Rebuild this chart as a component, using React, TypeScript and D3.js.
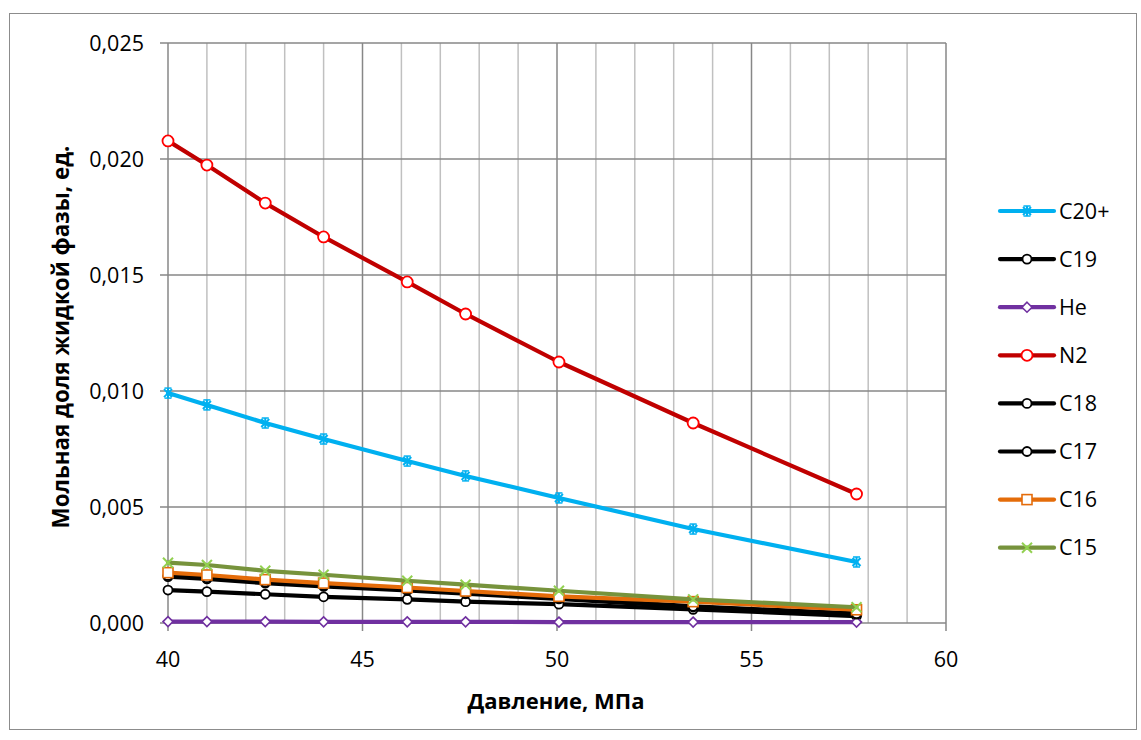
import React from "react";
import * as d3 from "d3";

const pressure = [40, 41, 42.5, 44, 46.15, 47.65, 50.05, 53.5, 57.7];
const c20p = [0.00991, 0.0094, 0.00862, 0.00793, 0.00698, 0.00634, 0.00539, 0.00405, 0.00263];
const c19 = [0.00142, 0.00135, 0.00124, 0.00113, 0.00102, 0.00092, 0.00081, 0.00059, 0.0003];
const he = [0.00006, 0.00006, 0.00006, 0.00005, 0.00005, 0.00005, 0.00004, 0.00004, 0.00004];
const n2 = [0.02078, 0.01974, 0.0181, 0.01664, 0.0147, 0.01332, 0.01125, 0.00862, 0.00556];
const c18 = [0.002, 0.0019, 0.00172, 0.00158, 0.0014, 0.00126, 0.00104, 0.00069, 0.00038];
const c17 = [0.00205, 0.00195, 0.00177, 0.00163, 0.00145, 0.0013, 0.00108, 0.00072, 0.0004];
const c16 = [0.00217, 0.00207, 0.00187, 0.00172, 0.00153, 0.00138, 0.00115, 0.00092, 0.00057];
const c15 = [0.0026, 0.0025, 0.00225, 0.00208, 0.00182, 0.00165, 0.00139, 0.00102, 0.00068];

const xTicks = [40, 45, 50, 55, 60];
const yTicks = [0, 0.005, 0.01, 0.015, 0.02, 0.025];

type Marker = "star" | "circle" | "diamond" | "square" | "x";
interface Series { name: string; values: number[]; line: string; mark: string; marker: Marker; r: number; }

const series: Series[] = [
  { name: "C20+", values: c20p, line: "#00B0F0", mark: "#00B0F0", marker: "star", r: 5 },
  { name: "C19", values: c19, line: "#000000", mark: "#000000", marker: "circle", r: 4.5 },
  { name: "He", values: he, line: "#7030A0", mark: "#7030A0", marker: "diamond", r: 5 },
  { name: "N2", values: n2, line: "#C00000", mark: "#FF0000", marker: "circle", r: 5.5 },
  { name: "C18", values: c18, line: "#000000", mark: "#000000", marker: "circle", r: 4.5 },
  { name: "C17", values: c17, line: "#000000", mark: "#000000", marker: "circle", r: 4.5 },
  { name: "C16", values: c16, line: "#E46C0A", mark: "#E46C0A", marker: "square", r: 5 },
  { name: "C15", values: c15, line: "#77933C", mark: "#92D050", marker: "x", r: 5 },
];

const FONT = "'Open Sans', 'Noto Sans', sans-serif";

function MarkerShape({ s, cx, cy }: { s: Series; cx: number; cy: number }) {
  const r = s.r;
  switch (s.marker) {
    case "circle":
      return <circle cx={cx} cy={cy} r={r} fill="#fff" stroke={s.mark} strokeWidth={1.8} />;
    case "diamond":
      return (
        <path
          d={`M${cx},${cy - r}L${cx + r},${cy}L${cx},${cy + r}L${cx - r},${cy}Z`}
          fill="#fff"
          stroke={s.mark}
          strokeWidth={1.6}
        />
      );
    case "square":
      return <rect x={cx - r} y={cy - r} width={2 * r} height={2 * r} fill="#fff" stroke={s.mark} strokeWidth={1.6} />;
    case "x":
      return (
        <g stroke={s.mark} strokeWidth={2}>
          <line x1={cx - r} y1={cy - r} x2={cx + r} y2={cy + r} />
          <line x1={cx - r} y1={cy + r} x2={cx + r} y2={cy - r} />
        </g>
      );
    case "star":
      return (
        <g stroke={s.mark} strokeWidth={2}>
          <line x1={cx - r * 0.8} y1={cy - r * 0.8} x2={cx + r * 0.8} y2={cy + r * 0.8} />
          <line x1={cx - r * 0.8} y1={cy + r * 0.8} x2={cx + r * 0.8} y2={cy - r * 0.8} />
          <line x1={cx} y1={cy - r} x2={cx} y2={cy + r} />
          <line x1={cx - r * 0.7} y1={cy - r} x2={cx + r * 0.7} y2={cy - r} strokeWidth={1.5} />
          <line x1={cx - r * 0.7} y1={cy + r} x2={cx + r * 0.7} y2={cy + r} strokeWidth={1.5} />
        </g>
      );
  }
  return null;
}

export default function App() {
  const W = 1141, H = 740;
  const x = d3.scaleLinear().domain([40, 60]).range([168, 946]);
  const y = d3.scaleLinear().domain([0, 0.025]).range([623, 43]);
  const minor = d3.range(41, 60);
  const fmt = (v: number) => d3.format(".3f")(v).replace(".", ",");
  const line = d3.line<[number, number]>().x((d) => x(d[0])).y((d) => y(d[1]));
  const legendY0 = 211, legendStep = 48.1;

  return (
    <svg width={W} height={H} style={{ position: "absolute", left: 0, top: 0, background: "#fff" }} fontFamily={FONT}>
      <rect x={9.5} y={13.5} width={1127} height={716} fill="#fff" stroke="#8c8c8c" strokeWidth={1} />
      {minor.filter((v) => v % 5 !== 0).map((v) => (
        <line key={"m" + v} x1={x(v)} x2={x(v)} y1={y(0.025)} y2={y(0)} stroke="#c0c0c0" strokeWidth={1.5} />
      ))}
      {xTicks.map((v) => (
        <line key={"vx" + v} x1={x(v)} x2={x(v)} y1={y(0.025)} y2={y(0) + 8} stroke="#878787" strokeWidth={1.5} />
      ))}
      {yTicks.map((v) => (
        <line key={"hy" + v} x1={x(40) - 8} x2={x(60)} y1={y(v)} y2={y(v)} stroke="#878787" strokeWidth={1.5} />
      ))}
      {yTicks.map((v) => (
        <text key={"ty" + v} x={144} y={y(v)} dy="0.36em" textAnchor="end" fontSize={21.5} fill="#000">
          {fmt(v)}
        </text>
      ))}
      {xTicks.map((v) => (
        <text key={"tx" + v} x={x(v)} y={659} dy="0.36em" textAnchor="middle" fontSize={21.5} fill="#000">
          {v}
        </text>
      ))}
      <text x={556} y={701} dy="0.36em" textAnchor="middle" fontSize={22} fontWeight="bold">
        Давление, МПа
      </text>
      <text
        transform={`translate(61,337) rotate(-90)`}
        dy="0.36em"
        textAnchor="middle"
        fontSize={22.4}
        fontWeight="bold"
      >
        Мольная доля жидкой фазы, ед.
      </text>
      {series.map((s) => {
        const pts = pressure.map((p, i) => [p, s.values[i]] as [number, number]);
        return (
          <g key={s.name}>
            <path d={line(pts) || ""} fill="none" stroke={s.line} strokeWidth={4.2} strokeLinejoin="round" strokeLinecap="round" />
            {pts.map((d, i) => (
              <MarkerShape key={i} s={s} cx={x(d[0])} cy={y(d[1])} />
            ))}
          </g>
        );
      })}
      {series.map((s, i) => {
        const ly = legendY0 + i * legendStep;
        return (
          <g key={"lg" + s.name}>
            <line x1={1000} x2={1054} y1={ly} y2={ly} stroke={s.line} strokeWidth={4.2} strokeLinecap="round" />
            <MarkerShape s={s} cx={1027} cy={ly} />
            <text x={1059} y={ly} dy="0.36em" fontSize={21.5}>
              {s.name}
            </text>
          </g>
        );
      })}
    </svg>
  );
}
